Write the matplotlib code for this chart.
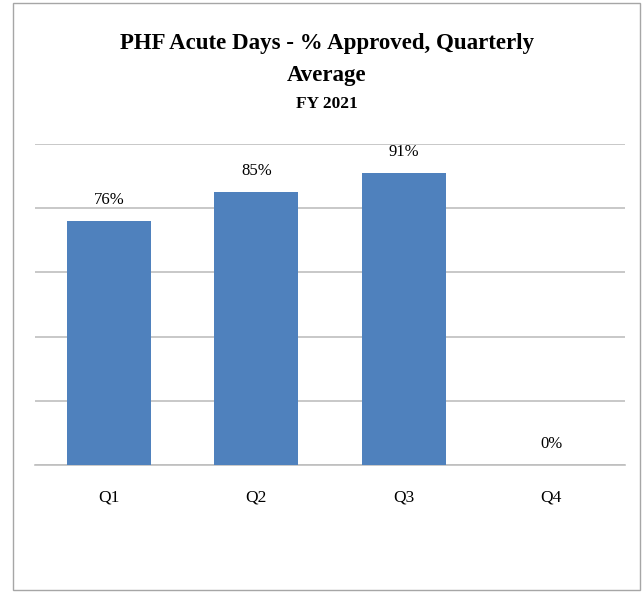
import matplotlib.pyplot as plt
from matplotlib.patches import Rectangle

quarters = ['Q1', 'Q2', 'Q3', 'Q4']
approved = [76, 85, 91, 0]
labels = ['76%', '85%', '91%', '0%']

plt.rcParams['font.family'] = ['Liberation Serif', 'DejaVu Serif']

fig = plt.figure(figsize=(6.43, 5.93), dpi=100)
W, H = 643, 593
ax = fig.add_axes([35 / W, 128 / H, 590 / W, 321 / H])

x = range(len(quarters))
ax.bar(x, approved, width=0.57, color='#4F81BD', zorder=3)
for i, (v, t) in enumerate(zip(approved, labels)):
    ax.text(i, v + 4, t, ha='center', va='bottom', fontsize=12)

ax.set_ylim(0, 100)
ax.set_xlim(-0.5, 3.5)
ax.set_yticks(range(0, 101, 20))
ax.yaxis.grid(True, color='#BFBFBF', linewidth=1.2, zorder=0)
ax.tick_params(axis='y', left=False, labelleft=False)
ax.tick_params(axis='x', bottom=False, pad=14, labelsize=12.5)
ax.set_xticks(list(x))
ax.set_xticklabels(quarters)
for s in ['top', 'right', 'left']:
    ax.spines[s].set_visible(False)
ax.spines['bottom'].set_color('#BFBFBF')
ax.spines['bottom'].set_linewidth(1.2)

fig.text(0.508, 1 - 43 / H, 'PHF Acute Days - % Approved, Quarterly', ha='center', va='center',
         fontsize=16.5, fontweight='bold')
fig.text(0.508, 1 - 75 / H, 'Average', ha='center', va='center', fontsize=16.5, fontweight='bold')
fig.text(0.508, 1 - 104 / H, 'FY 2021', ha='center', va='center', fontsize=12.5, fontweight='bold')

fig.patches.append(Rectangle((13 / W, 3 / H), 627 / W, 587 / H, transform=fig.transFigure,
                             fill=False, edgecolor='#A6A6A6', linewidth=1))

fig.savefig('out.png', dpi=100)
